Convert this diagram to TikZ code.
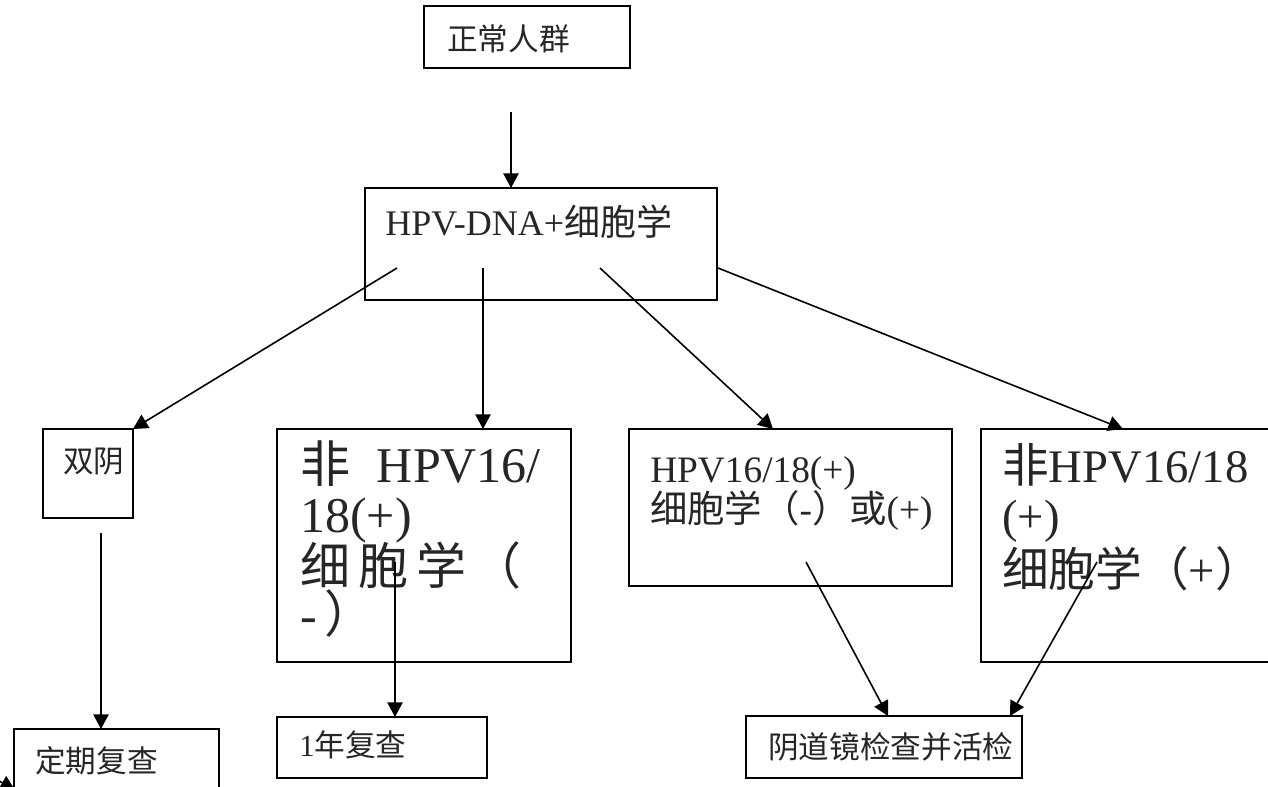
\documentclass[tikz,border=0pt]{standalone}
\usepackage{fontspec}
\setmainfont{Liberation Serif}
\newfontfamily\cjk{Noto Sans CJK SC}
\usetikzlibrary{fit,arrows.meta}
\newcommand\myfs[1]{\fontsize{#1}{#1}\selectfont}
\begin{document}
\begin{tikzpicture}[x=0.75pt,y=-0.75pt,
  box/.style={draw, line width=1.3pt, inner sep=0pt},
  txt/.style={anchor=base west, inner sep=0pt, text=black!85},
  conn/.style={line width=1.2pt, -{Triangle[length=11pt,width=11.5pt]}}]
\useasboundingbox (0,0) rectangle (1268,786);
\clip (0,0) rectangle (1268,786);
\fill[white] (0,0) rectangle (1268,786);
% boxes
\node[box, fit={(424,6) (630,68)}] (b0) {};
\node[box, fit={(365,188) (717,300)}] (b1) {};
\node[box, fit={(43,429) (133,518)}] (b2) {};
\node[box, fit={(277,429) (571,662)}] (b3) {};
\node[box, fit={(629,429) (952,586)}] (b4) {};
\node[box, fit={(981,429) (1300,662)}] (b5) {};
\node[box, fit={(14,729) (219,820)}] (b6) {};
\node[box, fit={(277,717) (487,778)}] (b7) {};
\node[box, fit={(746,716) (1022,778)}] (b8) {};
% texts
\node[txt] (t0) at (447,50) {\myfs{23pt}\cjk 正常人群};
\node[txt] (t1) at (385,235) {\myfs{27pt}HPV-DNA+{\cjk 细胞学}};
\node[txt] (t2) at (63,472) {\myfs{23pt}\cjk 双阴};
\node[txt] (t3a) at (300,482) {\myfs{37.5pt}{\cjk 非}\hspace{20pt}HPV16/};
\node[txt] (t3b) at (300,532) {\myfs{37.5pt}18(+)};
\node[txt] (t3c) at (300,584) {\myfs{37.5pt}\cjk 细\hspace{6pt}胞\hspace{6pt}学\hspace{4pt}（};
\node[txt] (t3d) at (300,632) {\myfs{37.5pt}-\hspace{6pt}{\cjk ）}};
\node[txt] (t4a) at (650,482) {\myfs{28pt}HPV16/18(+)};
\node[txt] (t4b) at (650,522) {\myfs{28pt}{\cjk 细胞学（}-{\cjk ）或}(+)};
\node[txt] (t5a) at (1002,482) {\myfs{35pt}{\cjk 非}HPV16/18};
\node[txt] (t5b) at (1002,532) {\myfs{35pt}(+)};
\node[txt] (t5c) at (1002,586) {\myfs{35pt}{\cjk 细胞学（}+{\cjk ）}};
\node[txt] (t6) at (35,772) {\myfs{23pt}\cjk 定期复查};
\node[txt] (t7) at (299,756) {\myfs{23pt}1{\cjk 年复查}};
\node[txt] (t8) at (768,758) {\myfs{23pt}\cjk 阴道镜检查并活检};
% connector end points
\coordinate (s0) at (511,112); \coordinate (e0) at (511,188);
\coordinate (s1) at (397,268); \coordinate (e1) at (133,429);
\coordinate (s2) at (483,268); \coordinate (e2) at (483,429);
\coordinate (s3) at (600,268); \coordinate (e3) at (773,429);
\coordinate (s4) at (718,268); \coordinate (e4) at (1123,429);
\coordinate (s5) at (101,533); \coordinate (e5) at (101,729);
\coordinate (s6) at (395,562); \coordinate (e6) at (395,717);
\coordinate (s7) at (806,562); \coordinate (e7) at (888,716);
\coordinate (s8) at (1097,562); \coordinate (e8) at (1010,716);
\coordinate (s9) at (-41,758); \coordinate (e9) at (15,790);
% connectors
\draw[conn] (s0) -- (e0);
\draw[conn] (s1) -- (e1);
\draw[conn] (s2) -- (e2);
\draw[conn] (s3) -- (e3);
\draw[conn] (s4) -- (e4);
\draw[conn] (s5) -- (e5);
\draw[conn] (s6) -- (e6);
\draw[conn] (s7) -- (e7);
\draw[conn] (s8) -- (e8);
\draw[conn] (s9) -- (e9);
\end{tikzpicture}
\end{document}
